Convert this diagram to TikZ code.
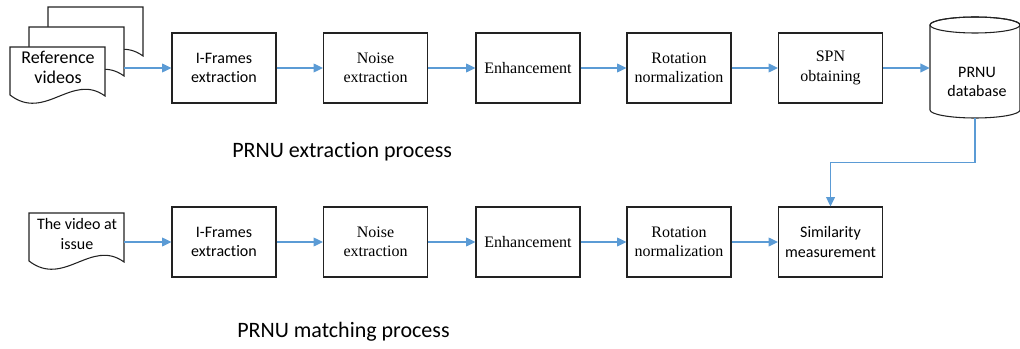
\documentclass[tikz,border=0pt]{standalone}
\usepackage{fontspec}
\setmainfont{Liberation Serif}
\newfontfamily\calibri{Carlito}[Ligatures=NoCommon]
\usetikzlibrary{arrows.meta}
\definecolor{flow}{HTML}{5B9BD5}
\definecolor{ink}{HTML}{222222}
\tikzset{
  stage/.style={draw=ink, line width=0.8pt, fill=white, minimum width=78pt,
    minimum height=52.5pt, align=center, inner sep=0pt},
  sansstage/.style={stage, font=\calibri\fontsize{12}{14.5}\selectfont},
  serifstage/.style={stage, font=\fontsize{12}{14.5}\selectfont},
  flowarrow/.style={draw=flow, line width=1.1pt, -{Triangle[length=7pt,width=6.5pt]}},
  outline/.style={draw=ink, line width=0.8pt, fill=white},
  caption/.style={font=\calibri\fontsize{16.5}{20}\selectfont, anchor=base west, inner sep=0pt},
  doctext/.style={align=center, inner sep=0pt},
  docsheet/.pic={
    \path[outline] (0,0) -- (95,0) -- (95,49)
      .. controls (62,25) and (35,75) .. (0,48) -- cycle;
  }
}
\begin{document}
\begin{tikzpicture}[x=0.75pt, y=-0.75pt]
\useasboundingbox (0,0) rectangle (1020,349);

% stack of reference video sheets, back to front
\pic at (48,7) {docsheet};
\pic at (29,27) {docsheet};
\pic at (10,47) {docsheet};
\node[doctext, font=\calibri\fontsize{13.5}{15}\selectfont] (refvideos) at (58,67) {Reference\\videos};
\coordinate (refout) at (124,68);

% extraction chain
\node[sansstage]  (ifr1) at (224,68)   {I-Frames\\extraction};
\node[serifstage] (noi1) at (375.5,68) {Noise\\extraction};
\node[serifstage] (enh1) at (528,68)   {Enhancement};
\node[serifstage] (rot1) at (679,68)   {Rotation\\normalization};
\node[serifstage] (spn)  at (830.5,68) {SPN\\obtaining};

% PRNU database cylinder
\path[outline] (930,25) -- (930,110)
  arc[start angle=180, end angle=0, x radius=45, y radius=8]
  -- (1020,25)
  arc[start angle=360, end angle=180, x radius=45, y radius=8] -- cycle;
\draw[ink, line width=0.8pt] (975,25) ellipse [x radius=45, y radius=8];
\node[minimum width=67.5pt, minimum height=75pt, inner sep=0pt] (dbbody) at (975,68) {};
\node[doctext, font=\calibri\fontsize{12}{14.5}\selectfont] (dbtext) at (977,82) {PRNU\\database};

\draw[flowarrow] (refout) -- (ifr1.west);
\draw[flowarrow] (ifr1) -- (noi1);
\draw[flowarrow] (noi1) -- (enh1);
\draw[flowarrow] (enh1) -- (rot1);
\draw[flowarrow] (rot1) -- (spn);
\draw[flowarrow] (spn) -- (dbbody.west);

\node[caption] (capext) at (232,157) {PRNU extraction process};

% matching chain
\pic at (29,213) {docsheet};
\node[doctext, font=\calibri\fontsize{12}{14.5}\selectfont] (issue) at (77,234) {The video at\\issue};
\coordinate (issueout) at (124,242);

\node[sansstage]  (ifr2) at (224,242)   {I-Frames\\extraction};
\node[serifstage] (noi2) at (375.5,242) {Noise\\extraction};
\node[serifstage] (enh2) at (528,242)   {Enhancement};
\node[serifstage] (rot2) at (679,242)   {Rotation\\normalization};
\node[sansstage]  (sim)  at (830.5,242) {Similarity\\measurement};

\draw[flowarrow] (issueout) -- (ifr2.west);
\draw[flowarrow] (ifr2) -- (noi2);
\draw[flowarrow] (noi2) -- (enh2);
\draw[flowarrow] (enh2) -- (rot2);
\draw[flowarrow] (rot2) -- (sim);
\draw[flowarrow] (dbbody.south) -- ++(0,44) -| (sim.north);

\node[caption] (capmatch) at (237,337) {PRNU matching process};
\end{tikzpicture}
\end{document}
